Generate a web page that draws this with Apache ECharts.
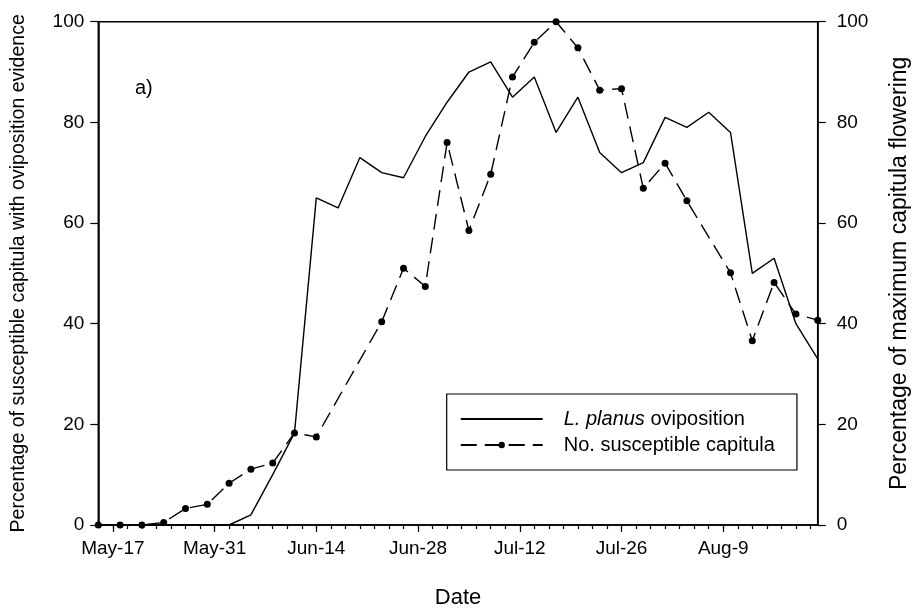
<!DOCTYPE html>
<html>
<head>
<meta charset="utf-8">
<style>
  html, body { margin: 0; padding: 0; background: #fff; }
  #chart { width: 912px; height: 611px; }
</style>
<script src="https://cdn.jsdelivr.net/npm/echarts@6/dist/echarts.min.js"></script>
</head>
<body>
<div id="chart"></div>
<script>
// Sampling days are counted from May-17 (day 0); the season runs May-15 .. Aug-22.
const seasonStart = -2;
const seasonEnd = 97;

// Labelled dates on the time axis
const tickDays = [0, 14, 28, 42, 56, 70, 84];
const tickLabels = ['May-17', 'May-31', 'Jun-14', 'Jun-28', 'Jul-12', 'Jul-26', 'Aug-9'];

// L. planus oviposition (% of susceptible capitula with oviposition evidence)
const ovipositionDays = [-2, 1, 4, 7, 10, 13, 16, 19, 22, 25, 28, 31, 34, 37, 40, 43, 46,
  49, 52, 55, 58, 61, 64, 67, 70, 73, 76, 79, 82, 85, 88, 91, 94, 97];
const ovipositionPct = [0, 0, 0, 0, 0, 0, 0, 2, 10, 18.3, 65, 63, 73, 70, 69, 77.2, 84,
  90, 92, 85, 89, 78, 85, 74, 70, 72, 81, 79, 82, 78, 50, 53, 40, 33];

// No. susceptible capitula (% of maximum capitula flowering)
const capitulaDays = [-2, 1, 4, 7, 10, 13, 16, 19, 22, 25, 28, 37, 40, 43, 46, 49, 52,
  55, 58, 61, 64, 67, 70, 73, 76, 79, 85, 88, 91, 94, 97];
const capitulaPct = [0, 0, 0, 0.5, 3.3, 4.1, 8.3, 11.1, 12.3, 18.3, 17.5, 40.4, 51, 47.4,
  76, 58.5, 69.7, 89, 95.9, 100, 94.8, 86.4, 86.7, 66.9, 71.9, 64.4, 50.1, 36.6, 48.2, 41.9, 40.7];

const seriesNames = ['L. planus oviposition', 'No. susceptible capitula'];

const pair = (xs, ys) => xs.map((x, i) => [x, ys[i]]);
const font = 'Liberation Sans, Arial, sans-serif';
const ink = '#000';

const chart = echarts.init(document.getElementById('chart'), null, { renderer: 'canvas' });

const yAxisCommon = {
  type: 'value', min: 0, max: 100, interval: 20,
  axisLine: { show: true, onZero: false, lineStyle: { color: ink, width: 1.5 } },
  axisTick: { show: true, length: 8, lineStyle: { color: ink, width: 1.2 } },
  axisLabel: { color: ink, fontSize: 19, fontFamily: font },
  splitLine: { show: false },
  nameLocation: 'middle', nameRotate: 90,
  nameTextStyle: { color: ink, fontSize: 19.5, fontFamily: font }
};

chart.setOption({
  animation: false,
  backgroundColor: '#fff',
  title: {
    text: 'a)', left: 130, top: 73,
    textStyle: { color: ink, fontSize: 20, fontWeight: 'normal', fontFamily: font }
  },
  grid: {
    left: 98.3, right: 94.3, top: 21.7, bottom: 86,
    outerBoundsMode: 'none', containLabel: false,
    show: true, borderColor: ink, borderWidth: 1.5, backgroundColor: 'transparent'
  },
  legend: {
    orient: 'vertical', left: 446.7, top: 394,
    padding: [15, 22, 15, 13], itemGap: 6,
    itemWidth: 82, itemHeight: 8,
    borderColor: ink, borderWidth: 1.2, borderRadius: 0,
    data: [
      { name: seriesNames[0], itemStyle: { opacity: 0 } },
      { name: seriesNames[1] }
    ],
    formatter: name => name === seriesNames[0] ? '{i|L. planus} oviposition' : name,
    textStyle: {
      color: ink, fontSize: 20, fontFamily: font, lineHeight: 20, padding: [0, 0, 0, 16],
      rich: { i: { fontStyle: 'italic', fontSize: 20, fontFamily: font, color: ink } }
    }
  },
  xAxis: [
    {
      // minor 2-day ticks, labels only at the fortnightly dates
      type: 'value', min: seasonStart, max: seasonEnd, interval: 2,
      name: 'Date', nameLocation: 'middle', nameGap: 62,
      nameTextStyle: { color: ink, fontSize: 22, fontFamily: font },
      axisLine: { show: true, onZero: false, lineStyle: { color: ink, width: 1.5 } },
      axisTick: { show: true, length: 4, lineStyle: { color: ink, width: 1.2 } },
      axisLabel: {
        color: ink, fontSize: 19, fontFamily: font, margin: 14,
        showMinLabel: false, showMaxLabel: false,
        formatter: v => { const k = tickDays.indexOf(v); return k >= 0 ? tickLabels[k] : ''; }
      },
      splitLine: { show: false }
    },
    {
      // longer ticks at the labelled dates
      type: 'value', min: seasonStart, max: seasonEnd, position: 'bottom', offset: 0,
      axisLine: { show: false, onZero: false },
      axisTick: { show: true, length: 7, customValues: tickDays, lineStyle: { color: ink, width: 1.2 } },
      axisLabel: { show: false, customValues: tickDays },
      splitLine: { show: false }
    }
  ],
  yAxis: [
    Object.assign({}, yAxisCommon, {
      position: 'left', nameGap: 70,
      axisLabel: Object.assign({}, yAxisCommon.axisLabel, { margin: 14 }),
      name: 'Percentage of susceptible capitula with oviposition evidence'
    }),
    Object.assign({}, yAxisCommon, {
      position: 'right', nameGap: 70,
      axisLabel: Object.assign({}, yAxisCommon.axisLabel, { margin: 19 }),
      nameTextStyle: { color: ink, fontSize: 23, fontFamily: font },
      name: 'Percentage of maximum capitula flowering'
    })
  ],
  series: [
    {
      name: seriesNames[0], type: 'line', xAxisIndex: 0, yAxisIndex: 0,
      data: pair(ovipositionDays, ovipositionPct),
      showSymbol: false, symbol: 'none',
      lineStyle: { color: ink, width: 1.4, type: 'solid' },
      itemStyle: { color: ink },
      clip: true, z: 3
    },
    {
      name: seriesNames[1], type: 'line', xAxisIndex: 0, yAxisIndex: 1,
      data: pair(capitulaDays, capitulaPct),
      symbol: 'circle', symbolSize: 7, showSymbol: true,
      lineStyle: { color: ink, width: 1.4, type: [16, 8] },
      itemStyle: { color: ink },
      clip: false, z: 4
    }
  ]
});
</script>
</body>
</html>
